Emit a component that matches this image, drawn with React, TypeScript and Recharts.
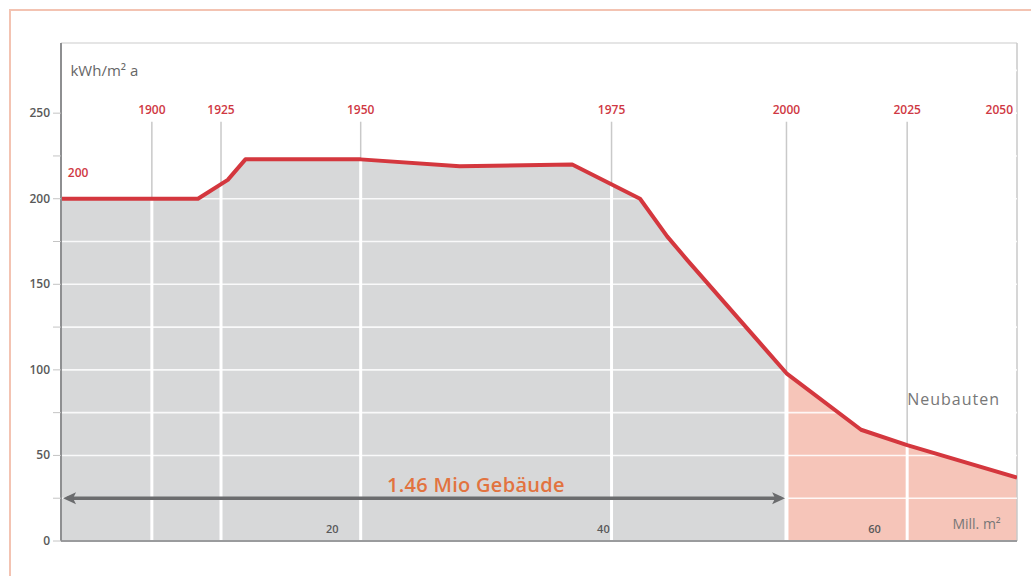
import React from 'react';
import {
  ComposedChart,
  Area,
  Line,
  XAxis,
  YAxis,
  ReferenceLine,
  ReferenceDot,
} from 'recharts';

// Cumulative floor area of the building stock (Mill. m²), oldest buildings first
const floorArea = [0, 10.1, 12.3, 13.6, 22.1, 29.4, 37.7, 42.7, 44.7, 46.2, 53.5, 59.0, 62.4, 70.5];
// Specific heating demand (kWh/m² a) along that floor area
const demand = [200, 200, 211, 223, 223, 219, 220, 200, 178, 164, 98, 65, 56, 37];

// Where the existing stock ends and new buildings begin
const stockEnd = 53.5;

// Construction years marked along the floor-area axis
const yearLabels = ['1900', '1925', '1950', '1975', '2000', '2025', '2050'];
const yearPositions = [6.7, 11.8, 22.1, 40.6, 53.5, 62.4, 70.5];
const demandAtYear = [200, 208, 223, 208, 98, 56, 37];

const yTicks = [0, 25, 50, 75, 100, 125, 150, 175, 200, 225, 250];
const xTicks = [20, 40, 60];
const gridValues = [25, 50, 75, 100, 125, 150, 175, 200, 225, 250, 275];

const yMax = 291;
const xMax = 70.5;

const RED = '#d4373e';
const RED_TEXT = '#cf3843';
const GRAY_FILL = '#d7d8d9';
const PINK_FILL = '#f6c5b9';
const FONT = '"Open Sans", "Noto Sans", sans-serif';

const rows = floorArea.map((x, i) => ({
  x,
  demand: demand[i],
  stock: x <= stockEnd ? demand[i] : null,
  newBuild: x >= stockEnd ? demand[i] : null,
}));

const YTick = (props: any) => {
  const { x, y, payload } = props;
  if (payload.value % 50 !== 0) return null;
  return (
    <text x={x} y={y} dy={4} textAnchor="end" fontSize={12} fontWeight={600} fill="#595959" fontFamily={FONT}>
      {payload.value}
    </text>
  );
};

const XTick = (props: any) => {
  const { x, y, payload } = props;
  return (
    <text x={x} y={y} dy={-16} textAnchor="middle" fontSize={11} fontWeight={600} fill="#595959" fontFamily={FONT}>
      {payload.value}
    </text>
  );
};

const textShape =
  (text: string, style: Record<string, any>) =>
  (p: any) => (
    <text x={p.cx} y={p.cy} dominantBaseline="central" fontFamily={FONT} {...style}>
      {text}
    </text>
  );

const ArrowShape = (p: any) => {
  const { x1, y1, x2, y2 } = p;
  const head = 13;
  const half = 6;
  return (
    <g>
      <line x1={x1 + 4} y1={y1} x2={x2 - 4} y2={y2} stroke="#6b6c6e" strokeWidth={3.5} />
      <polygon points={`${x1},${y1} ${x1 + head},${y1 - half} ${x1 + head - 3},${y1} ${x1 + head},${y1 + half}`} fill="#6b6c6e" />
      <polygon points={`${x2},${y2} ${x2 - head},${y2 - half} ${x2 - head + 3},${y2} ${x2 - head},${y2 + half}`} fill="#6b6c6e" />
    </g>
  );
};

export default function App() {
  return (
    <div style={{ position: 'absolute', left: 0, top: 0, width: 1031, height: 576, background: '#fff', overflow: 'hidden' }}>
      <div
        style={{
          position: 'absolute',
          left: 9,
          top: 9,
          width: 1100,
          height: 700,
          borderTop: '2px solid #f3c3b2',
          borderLeft: '2px solid #f3c3b2',
        }}
      />
      <ComposedChart
        width={1031}
        height={576}
        data={rows}
        margin={{ top: 43, right: 14, bottom: 0, left: 0 }}
        style={{ position: 'absolute', left: 0, top: 0 }}
      >
        <XAxis
          dataKey="x"
          type="number"
          domain={[0, xMax]}
          ticks={xTicks}
          tick={<XTick />}
          tickLine={false}
          axisLine={{ stroke: '#9a9b9d', strokeWidth: 2 }}
          height={35}
          allowDataOverflow
        />
        <YAxis
          type="number"
          domain={[0, yMax]}
          ticks={yTicks}
          tick={<YTick />}
          tickSize={8}
          tickMargin={3}
          tickLine={{ stroke: '#c4c4c4' }}
          axisLine={{ stroke: '#8e8f91', strokeWidth: 2 }}
          width={61}
          allowDataOverflow
        />

        <Area type="linear" dataKey="stock" stroke="none" fill={GRAY_FILL} fillOpacity={1} isAnimationActive={false} />
        <Area type="linear" dataKey="newBuild" stroke="none" fill={PINK_FILL} fillOpacity={1} isAnimationActive={false} />

        {/* frame: top edge and right edge */}
        <ReferenceLine y={yMax} stroke="#dcdcdc" strokeWidth={1.5} />
        <ReferenceLine x={xMax} stroke="#c9c9c9" strokeWidth={1.5} />

        {/* white grid lines across the filled area */}
        {gridValues.map((v) => (
          <ReferenceLine key={`g${v}`} y={v} stroke="#ffffff" strokeWidth={1.6} strokeOpacity={0.85} />
        ))}

        {/* year markers: white inside the fill, gray above the curve */}
        {yearPositions.slice(0, 6).map((pos, i) => (
          <ReferenceLine
            key={`w${i}`}
            segment={[
              { x: pos, y: 0 },
              { x: pos, y: demandAtYear[i] },
            ]}
            stroke="#ffffff"
            strokeWidth={i === 4 ? 4 : 3}
          />
        ))}
        {yearPositions.slice(0, 6).map((pos, i) => (
          <ReferenceLine
            key={`v${i}`}
            segment={[
              { x: pos, y: demandAtYear[i] },
              { x: pos, y: 245 },
            ]}
            stroke="#c9c9c9"
            strokeWidth={1.5}
          />
        ))}

        {/* extent of the existing building stock */}
        <ReferenceLine
          segment={[
            { x: 0.15, y: 25 },
            { x: stockEnd - 0.1, y: 25 },
          ]}
          shape={ArrowShape}
        />

        <Line
          type="linear"
          dataKey="demand"
          stroke={RED}
          strokeWidth={4}
          strokeLinejoin="round"
          dot={false}
          activeDot={false}
          isAnimationActive={false}
        />

        {yearLabels.map((label, i) => (
          <ReferenceDot
            key={`y${label}`}
            x={yearPositions[i]}
            y={252}
            r={0}
            shape={textShape(label, {
              fontSize: 12,
              fontWeight: 600,
              fill: RED_TEXT,
              textAnchor: i === yearLabels.length - 1 ? 'end' : 'middle',
              dx: i === yearLabels.length - 1 ? -4 : 0,
            })}
          />
        ))}

        <ReferenceDot x={0.7} y={275} r={0} shape={textShape('kWh/m² a', { fontSize: 15, fill: '#666' })} />
        <ReferenceDot x={0.5} y={215.5} r={0} shape={textShape('200', { fontSize: 12, fontWeight: 600, fill: RED_TEXT })} />
        <ReferenceDot
          x={30.6}
          y={33}
          r={0}
          shape={textShape('1.46 Mio Gebäude', { fontSize: 20, fontWeight: 600, fill: '#e2733f', textAnchor: 'middle', letterSpacing: 0.3 })}
        />
        <ReferenceDot x={62.4} y={83} r={0} shape={textShape('Neubauten', { fontSize: 16, fill: '#777', letterSpacing: 1 })} />
        <ReferenceDot
          x={69.3}
          y={10.5}
          r={0}
          shape={textShape('Mill. m²', { fontSize: 14, fill: '#777', textAnchor: 'end' })}
        />
      </ComposedChart>
    </div>
  );
}
